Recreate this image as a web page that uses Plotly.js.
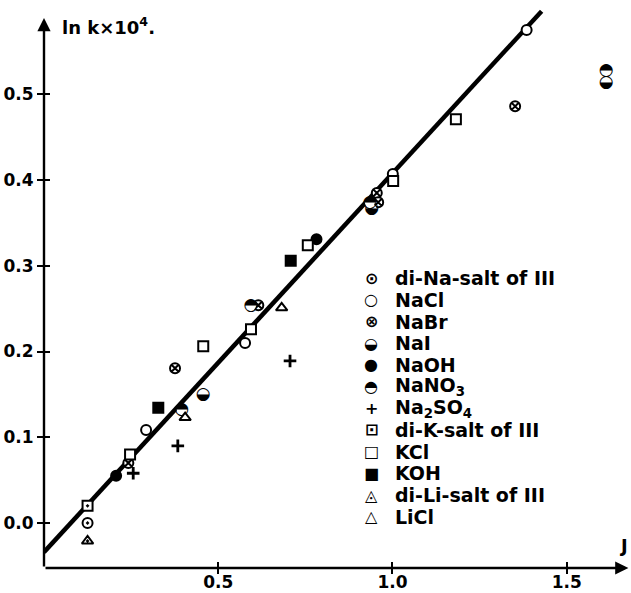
<!DOCTYPE html>
<html>
<head>
<meta charset="utf-8">
<script src="https://cdn.plot.ly/plotly-3.0.1.min.js"></script>
<style>html,body{margin:0;padding:0;background:#fff;}#chart{width:631px;height:593px;}</style>
</head>
<body>
<div id="chart"></div>
<script>
// ---- data ----
const diNaX = [0.125], diNaY = [0.0];
const naclX = [0.293, 0.577, 1.001, 1.385], naclY = [0.1085, 0.210, 0.407, 0.575];
const nabrX = [0.242, 0.376, 0.615, 0.955, 0.959, 1.352], nabrY = [0.070, 0.1805, 0.254, 0.385, 0.374, 0.486];
const naiX = [0.457, 0.940, 1.613], naiY = [0.150, 0.366, 0.514];
const naohX = [0.207, 0.782], naohY = [0.055, 0.331];
const nano3X = [0.395, 0.594, 0.935, 1.613], nano3Y = [0.132, 0.2536, 0.374, 0.527];
const na2so4X = [0.256, 0.384, 0.706], na2so4Y = [0.058, 0.090, 0.189];
const diKX = [0.125], diKY = [0.020];
const kclX = [0.247, 0.457, 0.594, 0.757, 1.002, 1.182], kclY = [0.080, 0.206, 0.226, 0.324, 0.399, 0.471];
const kohX = [0.328, 0.708], kohY = [0.1345, 0.306];
const diLiX = [0.125], diLiY = [-0.021];
const liclX = [0.405, 0.682], liclY = [0.123, 0.251];
const fitX = [0, 1.428], fitY = [-0.034, 0.597];

const xTickVals = [0.5, 1.0, 1.5], xTickText = ["0.5", "1.0", "1.5"];
const yTickVals = [0.0, 0.1, 0.2, 0.3, 0.4, 0.5], yTickText = ["0.0", "0.1", "0.2", "0.3", "0.4", "0.5"];

const legendSymbols = ["⊙", "○", "⊗", "◒", "●", "◓", "+", "⊡", "□", "■", "◬", "△"];
const legendLabels = ["di-Na-salt of III", "NaCl", "NaBr", "NaI", "NaOH", "NaNO<sub>3</sub>",
  "Na<sub>2</sub>SO<sub>4</sub>", "di-K-salt of III", "KCl", "KOH", "di-Li-salt of III", "LiCl"];

// ---- styling ----
const XR = [0, 1.6845], YR = [-0.0525, 0.61];
const ML = 44, MB = 25, MT = 0, MR = 0, W = 631, H = 593;
const PW = W - ML - MR, PH = H - MB - MT;
const fontTxt = "DejaVu Sans, sans-serif";
const MS = 10, LW = 2;

function mk(x, y, symbol, fill, extra) {
  return Object.assign({
    type: 'scatter', mode: 'markers', x: x, y: y, showlegend: false, hoverinfo: 'skip',
    marker: { symbol: symbol, size: MS, color: fill, line: { color: 'black', width: LW } },
    cliponaxis: false
  }, extra || {});
}
function half(x, y, glyph) {
  return {
    type: 'scatter', mode: 'markers+text', x: x, y: y, showlegend: false, hoverinfo: 'skip',
    marker: { symbol: 'circle', size: 10, color: 'white', line: { width: 0 } },
    text: x.map(() => glyph), textposition: 'middle center',
    textfont: { family: 'DejaVu Sans', size: 17, color: 'black' }, cliponaxis: false
  };
}

const traces = [
  { type: 'scatter', mode: 'lines', x: fitX, y: fitY, line: { color: 'black', width: 4.5 }, showlegend: false, hoverinfo: 'skip' },
  mk(diNaX, diNaY, 'circle-dot', 'white'),
  mk(naclX, naclY, 'circle', 'white'),
  mk(nabrX, nabrY, 'circle-x', 'white'),
  half(naiX, naiY, '◒'),
  mk(naohX, naohY, 'circle', 'black'),
  half(nano3X, nano3Y, '◓'),
  { type: 'scatter', mode: 'markers', x: na2so4X, y: na2so4Y, showlegend: false, hoverinfo: 'skip',
    marker: { symbol: 'cross-thin', size: 9, color: 'black', line: { color: 'black', width: 2.8 } } },
  mk(diKX, diKY, 'square-dot', 'white'),
  mk(kclX, kclY, 'square', 'white'),
  mk(kohX, kohY, 'square', 'black'),
  mk(diLiX, diLiY, 'triangle-up-dot', 'white'),
  mk(liclX, liclY, 'triangle-up', 'white'),
  { type: 'scatter', mode: 'markers', x: [null], y: [null], xaxis: 'x2', yaxis: 'y2', showlegend: false, hoverinfo: 'skip' }
];

const annotations = [];
// axis arrows
annotations.push({ x: 0, y: 0.589, xref: 'x', yref: 'y', ax: 0, ay: YR[0], axref: 'x', ayref: 'y',
  showarrow: true, arrowhead: 2, arrowsize: 1.1, arrowwidth: 2.4, arrowcolor: 'black', text: '', standoff: 0 });
annotations.push({ x: 1.677, y: YR[0], xref: 'x', yref: 'y', ax: 0, ay: YR[0], axref: 'x', ayref: 'y',
  showarrow: true, arrowhead: 2, arrowsize: 1.1, arrowwidth: 2.4, arrowcolor: 'black', text: '', standoff: 0 });
// axis titles
annotations.push({ x: (60 - ML) / PW, y: (PH - 26) / PH, xref: 'paper', yref: 'paper', xanchor: 'left', yanchor: 'middle',
  showarrow: false, text: 'ln k×10<sup>4</sup>.', font: { family: fontTxt, size: 18, color: 'black', weight: 'bold' } });
annotations.push({ x: (630 - ML) / PW, y: (PH - 545) / PH, xref: 'paper', yref: 'paper', xanchor: 'right', yanchor: 'middle',
  showarrow: false, text: 'J', font: { family: fontTxt, size: 18, color: 'black', weight: 'bold' } });
// legend
const legTop = 278.3, legStep = 21.67, symX = 371, txtX = 393;
legendLabels.forEach((lab, i) => {
  const py = legTop + i * legStep;
  annotations.push({ x: (symX - ML) / PW, y: (PH - py) / PH, xref: 'paper', yref: 'paper', xanchor: 'center', yanchor: 'middle',
    showarrow: false, text: legendSymbols[i], font: { family: 'DejaVu Sans', size: 16, color: 'black', weight: 'bold' } });
  annotations.push({ x: (txtX - ML) / PW, y: (PH - py) / PH, xref: 'paper', yref: 'paper', xanchor: 'left', yanchor: 'middle',
    showarrow: false, text: lab, font: { family: fontTxt, size: 19, color: 'black', weight: 'bold' } });
});

const tickFont = { family: fontTxt, size: 17, color: 'black', weight: 'bold' };
const layout = {
  width: W, height: H,
  margin: { l: ML, r: MR, t: MT, b: MB, pad: 0 },
  paper_bgcolor: 'white', plot_bgcolor: 'white',
  showlegend: false,
  xaxis: { range: XR, showgrid: false, zeroline: false, showline: false,
    tickmode: 'array', tickvals: xTickVals, ticktext: xTickText, ticks: 'outside', ticklen: 5, tickwidth: 2, tickcolor: 'black',
    ticklabelstandoff: -6, tickfont: tickFont, fixedrange: true },
  yaxis: { range: YR, showgrid: false, zeroline: false, showline: false,
    tickmode: 'array', tickvals: yTickVals, ticktext: yTickText, ticks: 'outside', ticklen: 6, tickwidth: 2, tickcolor: 'black',
    tickfont: tickFont, fixedrange: true },
  xaxis2: { range: XR, overlaying: 'x', anchor: 'y2', showgrid: false, zeroline: false, showline: false, showticklabels: false,
    tickmode: 'array', tickvals: xTickVals, ticks: 'inside', ticklen: 6, tickwidth: 2, tickcolor: 'black' },
  yaxis2: { range: YR, overlaying: 'y', anchor: 'x2', side: 'left', showgrid: false, zeroline: false, showline: false, showticklabels: false,
    tickmode: 'array', tickvals: yTickVals, ticks: 'inside', ticklen: 6, tickwidth: 2, tickcolor: 'black' },
  annotations: annotations
};

Plotly.newPlot('chart', traces, layout, { displayModeBar: false, staticPlot: true });
</script>
</body>
</html>
